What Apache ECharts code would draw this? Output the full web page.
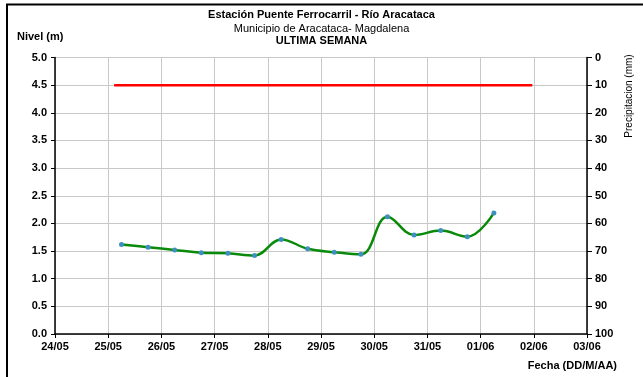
<!DOCTYPE html>
<html>
<head>
<meta charset="utf-8">
<script src="https://cdn.jsdelivr.net/npm/echarts@6/dist/echarts.min.js"></script>
<style>
html,body{margin:0;padding:0;background:#fff;}
#chart{width:643px;height:377px;}
</style>
</head>
<body>
<div id="chart"></div>
<script>
// ---- data ----
var startDate = '2024-05-24T00:00:00';
var tickLabels = ['24/05','25/05','26/05','27/05','28/05','29/05','30/05','31/05','01/06','02/06','03/06'];
var levelTimes = [
  '2024-05-25T06:00:00','2024-05-25T18:00:00','2024-05-26T06:00:00','2024-05-26T18:00:00',
  '2024-05-27T06:00:00','2024-05-27T18:00:00','2024-05-28T06:00:00','2024-05-28T18:00:00',
  '2024-05-29T06:00:00','2024-05-29T18:00:00','2024-05-30T06:00:00','2024-05-30T18:00:00',
  '2024-05-31T06:00:00','2024-05-31T18:00:00','2024-06-01T06:00:00'
];
var levelValues = [1.62,1.57,1.52,1.47,1.46,1.42,1.71,1.54,1.48,1.44,2.12,1.79,1.87,1.76,2.19];
var alertTimes = ['2024-05-25T02:40:00','2024-06-01T23:20:00'];
var alertValues = [4.5,4.5];

// ---- build ----
var t0 = Date.parse(startDate);
function dayOffset(s){ return (Date.parse(s) - t0) / 86400000; }
function pairs(times, vals){ return times.map(function(t,i){ return [dayOffset(t), vals[i]]; }); }

var FONT = '"Liberation Sans", Arial, sans-serif';
var chart = echarts.init(document.getElementById('chart'), null, {renderer:'canvas'});
chart.setOption({
  animation:false,
  backgroundColor:'#fff',
  textStyle:{fontFamily:FONT},
  grid:{left:55, right:56, top:57.5, bottom:43, containLabel:false},
  title:[
    {text:'Estación Puente Ferrocarril - Río Aracataca', left:'center', top:4,
     textStyle:{fontFamily:FONT,fontSize:11,fontWeight:'bold',color:'#000'}},
    {text:'Municipio de Aracataca- Magdalena', left:'center', top:18,
     textStyle:{fontFamily:FONT,fontSize:11,fontWeight:'normal',color:'#000'}},
    {text:'ULTIMA SEMANA', left:'center', top:30,
     textStyle:{fontFamily:FONT,fontSize:11,fontWeight:'bold',color:'#000'}},
    {text:'Nivel (m)', left:12, top:26,
     textStyle:{fontFamily:FONT,fontSize:11,fontWeight:'bold',color:'#000'}}
  ],
  graphic:[
    {type:'rect', shape:{x:7,y:4.5,width:700,height:500},
     style:{fill:'none', stroke:'#000', lineWidth:2}, silent:true, z:100},
    {type:'text', x:629, y:96, rotation:Math.PI/2,
     style:{text:'Precipitacion (mm)', fontFamily:FONT, fontSize:10, fill:'#000',
            textAlign:'center', textVerticalAlign:'middle'}},
    {type:'text', right:26, top:360,
     style:{text:'Fecha (DD/M/AA)', fontFamily:FONT, fontSize:11, fontWeight:'bold', fill:'#000'}}
  ],
  xAxis:{
    type:'value', min:0, max:tickLabels.length-1, interval:1,
    axisLine:{show:true, onZero:false, lineStyle:{color:'#000', width:1.5}},
    axisTick:{show:true, length:4, lineStyle:{color:'#000'}},
    axisLabel:{margin:7, fontFamily:FONT, fontSize:11, fontWeight:'bold', color:'#000',
      formatter:function(v){ return tickLabels[Math.round(v)] || ''; }},
    splitLine:{show:true, lineStyle:{color:'#c8c8c8', width:1}}
  },
  yAxis:[
    {type:'value', min:0, max:5, interval:0.5, position:'left',
     axisLine:{show:true, lineStyle:{color:'#000', width:1.5}},
     axisTick:{show:true, length:4, lineStyle:{color:'#000'}},
     axisLabel:{margin:8, fontFamily:FONT, fontSize:11, fontWeight:'bold', color:'#000',
       formatter:function(v){ return v.toFixed(1); }},
     splitLine:{show:true, lineStyle:{color:'#c8c8c8', width:1}}},
    {type:'value', min:0, max:100, interval:10, position:'right', inverse:true,
     axisLine:{show:true, lineStyle:{color:'#000', width:1.5}},
     axisTick:{show:true, length:5, inside:false, lineStyle:{color:'#000'}},
     axisLabel:{margin:8, fontFamily:FONT, fontSize:11, fontWeight:'bold', color:'#000'},
     splitLine:{show:false}}
  ],
  series:[
    {type:'line', name:'Alerta', yAxisIndex:0, data:pairs(alertTimes, alertValues),
     showSymbol:false, symbol:'none', lineStyle:{color:'#ff0000', width:2.5}, z:3},
    {type:'line', name:'Nivel', yAxisIndex:0, data:pairs(levelTimes, levelValues),
     smooth:0.4, symbol:'circle', symbolSize:5, showSymbol:true,
     itemStyle:{color:'#3d8fc0', borderWidth:0},
     lineStyle:{color:'#0a8a0a', width:2.5}, z:4}
  ]
});
</script>
</body>
</html>
